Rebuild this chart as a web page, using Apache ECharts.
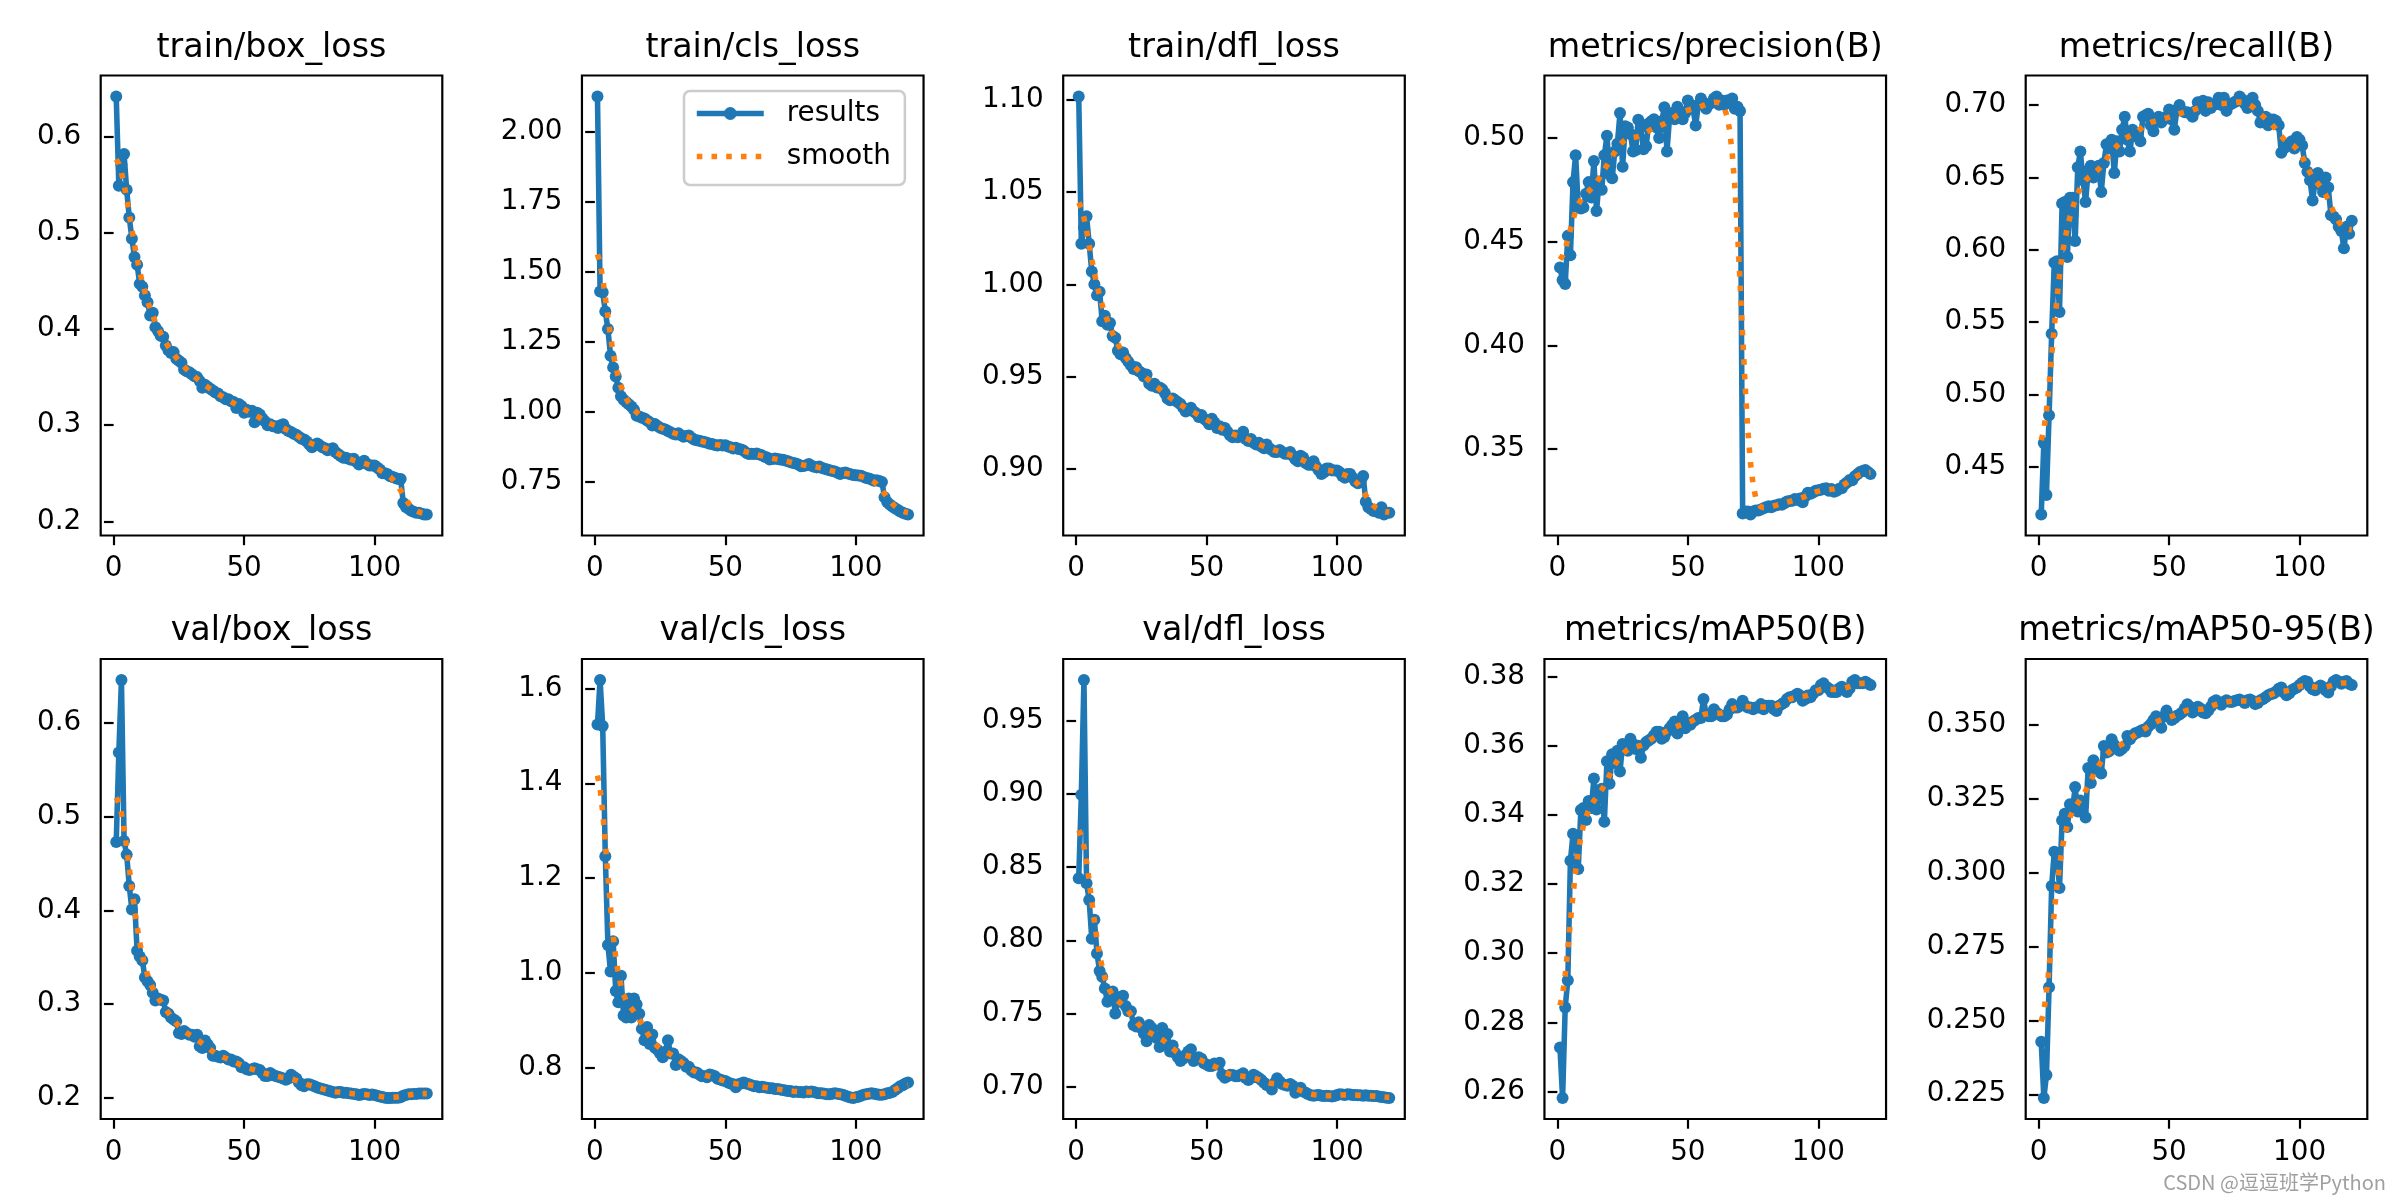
<!DOCTYPE html>
<html>
<head>
<meta charset="utf-8">
<script src="https://cdn.jsdelivr.net/npm/echarts@6/dist/echarts.min.js"></script>
<style>html,body{margin:0;padding:0;background:#fff}#c{width:2400px;height:1200px}</style>
</head>
<body>
<div id="c"></div>
<script>
// ---------------- data ----------------
const titles = ['train/box_loss','train/cls_loss','train/dfl_loss','metrics/precision(B)','metrics/recall(B)',
                'val/box_loss','val/cls_loss','val/dfl_loss','metrics/mAP50(B)','metrics/mAP50-95(B)'];
const epochs = Array.from({length: 120}, (_, i) => i + 1);
const xTicks = [0, 50, 100];

const trainBox = [
0.642,0.549,0.571,0.582,0.545,0.516,0.494,0.475,0.467,0.447,
0.444,0.435,0.428,0.414,0.417,0.402,0.398,0.393,0.392,0.383,
0.378,0.375,0.376,0.369,0.367,0.365,0.358,0.356,0.355,0.353,
0.351,0.350,0.346,0.339,0.342,0.340,0.338,0.336,0.334,0.333,
0.330,0.329,0.327,0.327,0.325,0.324,0.318,0.322,0.320,0.313,
0.316,0.314,0.315,0.303,0.313,0.311,0.307,0.304,0.300,0.301,
0.299,0.299,0.297,0.300,0.301,0.296,0.294,0.293,0.291,0.290,
0.288,0.286,0.285,0.283,0.280,0.277,0.279,0.281,0.279,0.277,
0.276,0.274,0.275,0.276,0.272,0.270,0.268,0.266,0.266,0.265,
0.264,0.265,0.262,0.259,0.261,0.263,0.260,0.258,0.258,0.258,
0.256,0.254,0.250,0.250,0.249,0.247,0.246,0.245,0.244,0.244,
0.219,0.215,0.213,0.211,0.210,0.209,0.209,0.208,0.207,0.207];
const trainCls = [
2.128,1.430,1.427,1.358,1.295,1.200,1.158,1.125,1.085,1.055,
1.042,1.034,1.026,1.018,1.006,0.985,0.982,0.978,0.975,0.968,
0.962,0.950,0.955,0.948,0.942,0.938,0.936,0.930,0.926,0.920,
0.918,0.922,0.915,0.910,0.912,0.914,0.906,0.900,0.897,0.895,
0.893,0.891,0.888,0.885,0.884,0.880,0.878,0.880,0.878,0.879,
0.875,0.872,0.868,0.870,0.866,0.864,0.860,0.852,0.848,0.849,
0.848,0.850,0.846,0.843,0.838,0.835,0.828,0.830,0.832,0.830,
0.828,0.827,0.825,0.822,0.818,0.816,0.814,0.810,0.804,0.805,
0.808,0.812,0.806,0.802,0.800,0.803,0.798,0.795,0.792,0.790,
0.787,0.785,0.781,0.776,0.780,0.782,0.778,0.775,0.773,0.772,
0.771,0.770,0.766,0.762,0.760,0.757,0.752,0.754,0.751,0.748,
0.693,0.676,0.667,0.660,0.654,0.648,0.642,0.638,0.634,0.631];
const trainDfl = [
1.102,1.022,1.031,1.037,1.022,1.007,1.000,0.994,0.996,0.980,
0.983,0.978,0.979,0.972,0.971,0.964,0.962,0.963,0.960,0.958,
0.956,0.954,0.955,0.953,0.952,0.950,0.951,0.946,0.945,0.946,
0.944,0.944,0.943,0.941,0.938,0.937,0.938,0.937,0.936,0.935,
0.933,0.931,0.932,0.933,0.931,0.930,0.928,0.929,0.927,0.926,
0.924,0.927,0.925,0.922,0.923,0.921,0.922,0.920,0.918,0.917,
0.918,0.917,0.918,0.920,0.916,0.915,0.916,0.914,0.913,0.914,
0.912,0.911,0.913,0.911,0.910,0.909,0.909,0.910,0.909,0.908,
0.908,0.909,0.907,0.905,0.904,0.907,0.906,0.903,0.902,0.902,
0.904,0.901,0.899,0.897,0.898,0.900,0.900,0.899,0.899,0.899,
0.898,0.896,0.895,0.897,0.897,0.895,0.893,0.892,0.893,0.896,
0.882,0.879,0.878,0.877,0.877,0.876,0.879,0.875,0.876,0.876];
const precision = [
0.4376,0.4315,0.4296,0.4528,0.4435,0.4787,0.4917,0.4667,0.4660,0.4665,
0.4731,0.4787,0.4713,0.4889,0.4648,0.4790,0.4750,0.4917,0.5010,0.4824,
0.4806,0.4935,0.4972,0.5120,0.4861,0.5056,0.5050,0.5019,0.4935,0.4940,
0.5087,0.5050,0.4945,0.4960,0.5070,0.5080,0.5090,0.5050,0.5000,0.5080,
0.5148,0.4935,0.5100,0.5120,0.5090,0.5150,0.5130,0.5090,0.5120,0.5180,
0.5160,0.5140,0.5060,0.5160,0.5190,0.5170,0.5140,0.5160,0.5170,0.5190,
0.5200,0.5160,0.5180,0.5160,0.5180,0.5170,0.5190,0.5140,0.5150,0.5130,
0.3190,0.3200,0.3200,0.3185,0.3200,0.3205,0.3205,0.3210,0.3215,0.3220,
0.3225,0.3220,0.3228,0.3230,0.3235,0.3232,0.3240,0.3248,0.3250,0.3252,
0.3260,0.3255,0.3262,0.3245,0.3272,0.3290,0.3285,0.3292,0.3300,0.3302,
0.3305,0.3310,0.3312,0.3300,0.3308,0.3295,0.3300,0.3310,0.3312,0.3330,
0.3340,0.3352,0.3350,0.3370,0.3380,0.3390,0.3395,0.3400,0.3390,0.3380];
const recall = [
0.417,0.4665,0.4306,0.4856,0.542,0.591,0.592,0.557,0.632,0.633,
0.595,0.636,0.636,0.606,0.657,0.668,0.648,0.633,0.655,0.658,
0.650,0.652,0.658,0.640,0.660,0.673,0.670,0.676,0.653,0.675,
0.668,0.683,0.692,0.676,0.668,0.683,0.680,0.678,0.675,0.692,
0.693,0.694,0.686,0.682,0.690,0.692,0.688,0.690,0.692,0.697,
0.690,0.683,0.697,0.700,0.696,0.695,0.695,0.694,0.692,0.696,
0.702,0.700,0.703,0.696,0.702,0.698,0.700,0.701,0.705,0.700,
0.705,0.696,0.700,0.701,0.702,0.703,0.706,0.704,0.701,0.698,
0.703,0.705,0.700,0.696,0.688,0.690,0.692,0.686,0.690,0.690,
0.689,0.686,0.667,0.670,0.673,0.672,0.675,0.670,0.678,0.676,
0.672,0.660,0.654,0.648,0.634,0.648,0.653,0.645,0.640,0.650,
0.643,0.624,0.623,0.621,0.616,0.613,0.601,0.616,0.611,0.620];
const valBox = [
0.4729,0.5686,0.646,0.474,0.4595,0.4261,0.4008,0.4118,0.3568,0.3507,
0.3466,0.3283,0.3242,0.3202,0.312,0.3039,0.3059,0.3047,0.3039,0.2916,
0.2896,0.2855,0.2835,0.2815,0.2692,0.268,0.2713,0.2692,0.2672,0.2672,
0.2652,0.2672,0.255,0.253,0.2611,0.257,0.253,0.2448,0.2448,0.2436,
0.2428,0.2448,0.2428,0.2407,0.2407,0.2387,0.2387,0.2367,0.2326,0.2326,
0.2305,0.2297,0.2305,0.2314,0.2305,0.2297,0.2265,0.2232,0.2232,0.2265,
0.2244,0.2232,0.2224,0.2216,0.2204,0.2191,0.2204,0.2244,0.2224,0.2204,
0.2163,0.2134,0.2122,0.2143,0.2143,0.2134,0.2122,0.211,0.2102,0.2094,
0.2086,0.2077,0.2069,0.2061,0.2053,0.2061,0.2061,0.2053,0.2053,0.2049,
0.2045,0.2041,0.2037,0.2029,0.2033,0.2041,0.2037,0.2029,0.2033,0.2029,
0.202,0.2012,0.2008,0.2,0.1996,0.1996,0.2,0.2,0.2,0.2004,
0.202,0.2029,0.2037,0.2037,0.2041,0.2041,0.2045,0.2045,0.2045,0.2045];
const valCls = [
1.524,1.618,1.521,1.246,1.059,1.003,1.067,0.962,0.938,0.994,
0.910,0.906,0.946,0.906,0.946,0.934,0.914,0.882,0.858,0.886,
0.850,0.870,0.842,0.838,0.830,0.822,0.834,0.858,0.830,0.830,
0.806,0.818,0.814,0.810,0.802,0.802,0.794,0.790,0.790,0.786,
0.782,0.782,0.780,0.786,0.784,0.782,0.777,0.775,0.773,0.772,
0.769,0.767,0.765,0.759,0.765,0.767,0.769,0.767,0.765,0.763,
0.761,0.761,0.759,0.760,0.759,0.758,0.757,0.757,0.755,0.755,
0.754,0.753,0.752,0.751,0.751,0.749,0.750,0.749,0.749,0.748,
0.750,0.749,0.750,0.749,0.747,0.746,0.746,0.745,0.744,0.744,
0.745,0.746,0.745,0.744,0.743,0.741,0.739,0.737,0.736,0.738,
0.739,0.741,0.743,0.744,0.745,0.746,0.745,0.744,0.743,0.743,
0.744,0.746,0.747,0.749,0.753,0.757,0.761,0.763,0.767,0.769];
const valDfl = [
0.8424,0.8995,0.978,0.839,0.8275,0.801,0.814,0.791,0.779,0.775,
0.767,0.758,0.763,0.765,0.750,0.758,0.761,0.762,0.755,0.7515,
0.7515,0.742,0.741,0.744,0.740,0.736,0.731,0.742,0.740,0.7345,
0.733,0.727,0.740,0.729,0.736,0.724,0.728,0.723,0.720,0.7175,
0.719,0.7215,0.724,0.7255,0.7175,0.719,0.720,0.719,0.716,0.715,
0.714,0.714,0.7157,0.715,0.7162,0.708,0.706,0.7071,0.708,0.7079,
0.7071,0.7071,0.708,0.709,0.7058,0.7045,0.7058,0.708,0.7071,0.7058,
0.7045,0.7026,0.7011,0.7005,0.698,0.7025,0.7056,0.7034,0.7018,0.7011,
0.7005,0.7018,0.7005,0.6958,0.6974,0.6992,0.6966,0.6958,0.6948,0.694,
0.6937,0.694,0.6942,0.6937,0.6935,0.6937,0.6935,0.6932,0.6935,0.6942,
0.6948,0.6945,0.6942,0.6948,0.6945,0.6942,0.6942,0.694,0.694,0.6937,
0.694,0.6937,0.6937,0.6935,0.6935,0.6932,0.6929,0.6927,0.6924,0.6921];
const map50 = [
0.2727,0.2581,0.2843,0.2922,0.3267,0.3345,0.3336,0.3243,0.3414,0.3420,
0.3385,0.3440,0.3420,0.3505,0.3415,0.3470,0.3475,0.3380,0.3555,0.3490,
0.3575,0.3550,0.3585,0.3525,0.3605,0.3595,0.3585,0.3620,0.3605,0.3590,
0.3600,0.3565,0.3600,0.3610,0.3615,0.3620,0.3630,0.3640,0.3640,0.3620,
0.3625,0.3640,0.3650,0.3660,0.3670,0.3635,0.3660,0.3685,0.3650,0.3665,
0.3660,0.3670,0.3675,0.3680,0.3680,0.3735,0.3690,0.3685,0.3685,0.3705,
0.3695,0.3690,0.3685,0.3685,0.3690,0.3705,0.3720,0.3710,0.3710,0.3715,
0.3730,0.3715,0.3710,0.3710,0.3705,0.3710,0.3710,0.3720,0.3705,0.3715,
0.3715,0.3715,0.3705,0.3700,0.3715,0.3720,0.3725,0.3735,0.3740,0.3740,
0.3745,0.3750,0.3745,0.3730,0.3735,0.3745,0.3740,0.3750,0.3760,0.3760,
0.3775,0.3780,0.3770,0.3765,0.3755,0.3755,0.3755,0.3765,0.3770,0.3760,
0.3755,0.3765,0.3785,0.3790,0.3780,0.3780,0.3780,0.3785,0.3780,0.3775];
const map5095 = [
0.2428,0.2237,0.2315,0.2612,0.2955,0.3071,0.3068,0.2948,0.3178,0.3200,
0.3155,0.3232,0.3213,0.3290,0.3207,0.3245,0.3232,0.3187,0.3355,0.3304,
0.3381,0.3362,0.3349,0.3336,0.3429,0.3407,0.3411,0.3452,0.3433,0.3420,
0.3413,0.3420,0.3429,0.3463,0.3452,0.3465,0.3472,0.3475,0.3480,0.3484,
0.3478,0.3494,0.3504,0.3517,0.3530,0.3510,0.3491,0.3530,0.3549,0.3530,
0.3517,0.3523,0.3532,0.3536,0.3543,0.3556,0.3571,0.3562,0.3543,0.3549,
0.3562,0.3556,0.3543,0.3540,0.3549,0.3562,0.3579,0.3584,0.3575,0.3569,
0.3579,0.3584,0.3579,0.3578,0.3582,0.3584,0.3587,0.3582,0.3575,0.3584,
0.3587,0.3582,0.3571,0.3575,0.3584,0.3588,0.3594,0.3601,0.3605,0.3607,
0.3614,0.3623,0.3627,0.3610,0.3601,0.3607,0.3618,0.3623,0.3627,0.3636,
0.3643,0.3649,0.3647,0.3631,0.3621,0.3618,0.3627,0.3634,0.3627,0.3618,
0.3610,0.3631,0.3647,0.3653,0.3647,0.3640,0.3647,0.3649,0.3640,0.3636];

const yTicks1 = [0.2, 0.3, 0.4, 0.5, 0.6];
const yTicks2 = [0.75, 1.00, 1.25, 1.50, 1.75, 2.00];
const yTicks3 = [0.90, 0.95, 1.00, 1.05, 1.10];
const yTicks4 = [0.35, 0.40, 0.45, 0.50];
const yTicks5 = [0.45, 0.50, 0.55, 0.60, 0.65, 0.70];
const yTicks6 = [0.2, 0.3, 0.4, 0.5, 0.6];
const yTicks7 = [0.8, 1.0, 1.2, 1.4, 1.6];
const yTicks8 = [0.70, 0.75, 0.80, 0.85, 0.90, 0.95];
const yTicks9 = [0.26, 0.28, 0.30, 0.32, 0.34, 0.36, 0.38];
const yTicks10 = [0.225, 0.250, 0.275, 0.300, 0.325, 0.350];
const yDecimals = [1, 2, 2, 2, 2, 1, 1, 2, 2, 3];

const seriesValues = [trainBox, trainCls, trainDfl, precision, recall, valBox, valCls, valDfl, map50, map5095];
const yTickList = [yTicks1, yTicks2, yTicks3, yTicks4, yTicks5, yTicks6, yTicks7, yTicks8, yTicks9, yTicks10];

// Same smoothing as the source plot: gaussian_filter1d(y, sigma=3), mode 'reflect', truncate 4
function gaussianSmooth(y, sigma) {
  const r = Math.round(4 * sigma);
  const w = [];
  let s = 0;
  for (let k = -r; k <= r; k++) { const v = Math.exp(-0.5 * (k / sigma) ** 2); w.push(v); s += v; }
  const n = y.length;
  const idx = i => { while (i < 0 || i >= n) { if (i < 0) i = -i - 1; else i = 2 * n - i - 1; } return i; };
  return y.map((_, i) => { let acc = 0; for (let k = -r; k <= r; k++) acc += w[k + r] * y[idx(i + k)]; return acc / s; });
}

// ---------------- layout ----------------
const FONT = 'DejaVu Sans';
const gLeft0 = 100.7, gStep = 481.25, gW = 341.6, gH = 460, rowTop = [75.5, 659];
const C0 = '#1f77b4', C1 = '#ff7f0e';
const LW = 5.56, TICKLEN = 9.7, TICKW = 2.2, LABELPAD = 19.4;

const grids = [], xAxes = [], yAxes = [], series = [], titleArr = [];
const pad = v => v.min - 0.05 * (v.max - v.min);
const padMax = v => v.max + 0.05 * (v.max - v.min);

for (let i = 0; i < 10; i++) {
  const col = i % 5, row = Math.floor(i / 5);
  const left = gLeft0 + col * gStep, top = rowTop[row];
  grids.push({left: left, top: top, width: gW, height: gH, show: true, borderColor: '#000', borderWidth: 2.2, backgroundColor: '#fff', containLabel: false});
  titleArr.push({text: titles[i], left: left + gW / 2, top: top - 44, textAlign: 'center', padding: 0,
    textStyle: {fontFamily: FONT, fontSize: 33.3, fontWeight: 'normal', color: '#000'}});
  xAxes.push({type: 'value', gridIndex: i, min: pad, max: padMax, splitLine: {show: false},
    axisLine: {show: false},
    axisTick: {show: true, customValues: xTicks, length: TICKLEN, lineStyle: {color: '#000', width: TICKW}},
    axisLabel: {customValues: xTicks, margin: LABELPAD, fontFamily: FONT, fontSize: 27.8, color: '#000'}});
  const dec = yDecimals[i];
  yAxes.push({type: 'value', gridIndex: i, min: pad, max: padMax, scale: true, splitLine: {show: false},
    axisLine: {show: false},
    axisTick: {show: true, customValues: yTickList[i], length: TICKLEN, lineStyle: {color: '#000', width: TICKW}},
    axisLabel: {customValues: yTickList[i], margin: LABELPAD, fontFamily: FONT, fontSize: 27.8, color: '#000',
      formatter: v => Number(v).toFixed(dec)}});
  const vals = seriesValues[i];
  const sm = gaussianSmooth(vals, 3);
  series.push({name: 'results', type: 'line', xAxisIndex: i, yAxisIndex: i, z: 2,
    data: epochs.map((e, k) => [e, vals[k]]),
    symbol: 'circle', symbolSize: 12, showSymbol: true, showAllSymbol: true,
    itemStyle: {color: C0}, lineStyle: {color: C0, width: LW}, emphasis: {disabled: true}});
  series.push({name: 'smooth', type: 'line', xAxisIndex: i, yAxisIndex: i, z: 3,
    data: epochs.map((e, k) => [e, sm[k]]),
    symbol: 'none', showSymbol: false,
    itemStyle: {color: C1}, lineStyle: {color: C1, width: LW, type: [5.56, 9.17], cap: 'butt'}, emphasis: {disabled: true}});
}

const chart = echarts.init(document.getElementById('c'), null, {renderer: 'canvas'});
chart.setOption({
  backgroundColor: '#fff',
  animation: false,
  title: titleArr,
  grid: grids, xAxis: xAxes, yAxis: yAxes, series: series,
  legend: {
    data: [
      {name: 'results', lineStyle: {width: LW, color: C0, type: 'solid'}, itemStyle: {color: C0}},
      {name: 'smooth', lineStyle: {width: LW, color: C1, type: [5.56, 9.17], cap: 'butt'}, itemStyle: {opacity: 0}}
    ],
    orient: 'vertical', left: 684, top: 91,
    padding: [6, 14, 12, 10], itemGap: 10, itemWidth: 67, itemHeight: 16,
    borderColor: '#cccccc', borderWidth: 2.5, borderRadius: 6, backgroundColor: 'rgba(255,255,255,0.8)',
    selectedMode: false,
    lineStyle: {width: LW},
    textStyle: {fontFamily: FONT, fontSize: 27.8, color: '#000', lineHeight: 33, padding: [0, 0, 0, 18]}},
  graphic: [{type: 'text', right: 14, bottom: 8,
    style: {text: 'CSDN @逗逗班学Python', fill: '#a0a0a0', font: '20px "Noto Sans CJK SC"'}}]
});
</script>
</body>
</html>
